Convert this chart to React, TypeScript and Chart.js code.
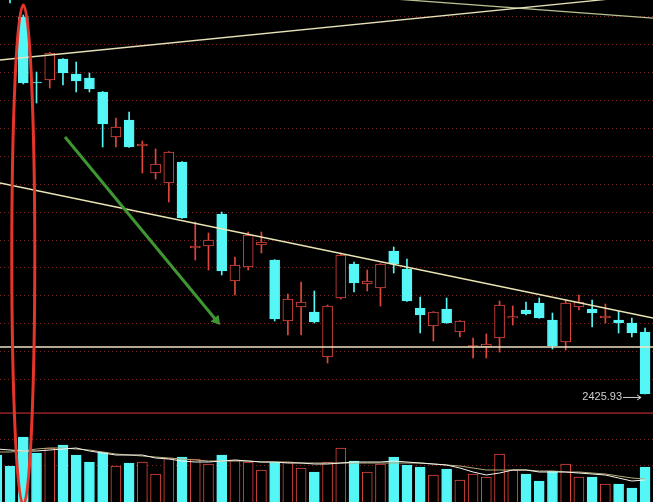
import React, { useEffect, useRef } from 'react';
import { Chart, registerables } from 'chart.js';

Chart.register(...registerables);

// ---- data (index-based trading days) ----
const dayIndex = [0, 1, 2, 3, 4, 5, 6, 7, 8, 9, 10, 11, 12, 13, 14, 15, 16, 17, 18, 19, 20, 21, 22, 23, 24, 25, 26, 27, 28, 29, 30, 31, 32, 33, 34, 35, 36, 37, 38, 39, 40, 41, 42, 43, 44, 45, 46, 47, 48, 49];

const opens = [2735.0, 2724.0, 2695.45, 2648.97, 2650.4, 2665.42, 2654.69, 2651.83, 2641.82, 2609.65,
  2621.8, 2603.21, 2583.9, 2576.76, 2591.77, 2530.28, 2531.71, 2554.59, 2506.69, 2516.7,
  2532.43, 2521.7, 2478.09, 2488.1, 2484.52, 2452.35, 2494.53, 2518.84, 2504.54, 2501.68,
  2528.14, 2515.27, 2487.38, 2474.51, 2486.67, 2470.22, 2459.5, 2459.5, 2465.93, 2480.23,
  2485.95, 2490.96, 2478.8, 2463.07, 2488.1, 2486.67, 2480.23, 2478.8, 2476.66, 2470.22];

const highs = [2741.0, 2727.5, 2696.88, 2656.12, 2670.1, 2665.8, 2663.27, 2655.41, 2642.2, 2623.23,
  2627.52, 2606.78, 2601.07, 2599.2, 2592.1, 2548.87, 2541.0, 2556.02, 2523.85, 2541.72,
  2541.72, 2522.0, 2497.39, 2505.97, 2499.54, 2489.53, 2526.71, 2520.27, 2514.55, 2519.1,
  2531.0, 2522.42, 2495.25, 2484.8, 2494.53, 2478.4, 2465.93, 2468.79, 2492.39, 2488.81,
  2491.67, 2494.53, 2483.81, 2493.1, 2496.68, 2493.1, 2490.24, 2485.24, 2480.23, 2473.08];

const lows = [2709.0, 2705.5, 2647.54, 2633.96, 2644.68, 2646.83, 2641.82, 2641.82, 2602.5, 2602.5,
  2602.2, 2583.9, 2579.62, 2563.17, 2551.4, 2521.7, 2514.55, 2510.98, 2496.68, 2514.55,
  2526.71, 2478.09, 2468.08, 2468.08, 2476.66, 2448.06, 2493.82, 2498.82, 2499.54, 2488.81,
  2512.41, 2492.1, 2469.51, 2463.79, 2476.4, 2466.65, 2451.63, 2451.63, 2455.92, 2475.23,
  2482.38, 2480.0, 2458.07, 2457.35, 2485.95, 2473.8, 2476.66, 2469.51, 2466.65, 2425.93];

const closes = [2712.0, 2712.5, 2648.26, 2648.26, 2669.7, 2655.41, 2649.69, 2643.97, 2618.94, 2616.8,
  2602.5, 2604.64, 2590.34, 2598.92, 2551.73, 2531.71, 2536.0, 2513.84, 2518.13, 2539.58,
  2534.57, 2479.52, 2493.82, 2491.67, 2477.37, 2488.81, 2525.28, 2505.26, 2506.69, 2518.84,
  2518.84, 2492.39, 2482.38, 2484.52, 2476.66, 2478.09, 2460.57, 2461.64, 2489.53, 2481.3,
  2483.09, 2480.23, 2460.21, 2490.96, 2491.67, 2483.81, 2481.66, 2476.66, 2469.51, 2425.93];

const volumes = [1305, 1140, 1575, 1335, 1410, 1455, 1305, 1200, 1350, 1140,
  1185, 1200, 1020, 1260, 1275, 1245, 1170, 1305, 1230, 1200,
  1080, 1200, 1200, 1110, 1050, 1200, 1410, 1215, 1050, 1170,
  1275, 1155, 1125, 1005, 1095, 930, 1020, 975, 1320, 1080,
  1020, 915, 1065, 1170, 975, 975, 870, 870, 810, 1125];

const volMaShort = [1395, 1380, 1365, 1365, 1380, 1395, 1410, 1365, 1335, 1305,
  1305, 1305, 1260, 1245, 1215, 1200, 1200, 1215, 1230, 1215,
  1200, 1200, 1185, 1185, 1170, 1170, 1185, 1200, 1200, 1200,
  1215, 1200, 1185, 1170, 1155, 1110, 1050, 1005, 1035, 1080,
  1080, 1050, 1050, 1050, 1035, 1020, 1005, 960, 915, 930];

const volMaLong = [1350, 1350, 1365, 1395, 1410, 1410, 1395, 1380, 1350, 1320,
  1305, 1290, 1275, 1260, 1245, 1230, 1215, 1215, 1215, 1215,
  1200, 1200, 1200, 1185, 1185, 1185, 1185, 1185, 1185, 1185,
  1185, 1185, 1185, 1170, 1155, 1140, 1110, 1080, 1080, 1080,
  1080, 1065, 1065, 1050, 1050, 1035, 1020, 990, 960, 945];

// ---- axes ----
const xRange = [0.24, 49.6];
const priceRange = [2411.6, 2707.6];
const volumeRange = [600, 1920];
const priceGridTicks = [2696, 2676, 2656, 2636, 2616, 2596, 2576, 2556, 2536, 2516, 2496, 2476, 2456, 2436];
const volumeGridTicks = [1545, 1155];

// ---- drawn annotations (in data units) ----
const upperTrend = [[0.24, 2664.7], [49.6, 2711.4]];
const crossTrend = [[30, 2708.35], [49.6, 2694.7]];
const downTrend = [[0.24, 2576.76], [49.6, 2480.23]];
const supportLine = [[0.24, 2459.5], [49.6, 2459.5]];
const paneSeparator = [[0.24, 2412.1], [49.6, 2412.1]];
const greenArrow = [[5.155, 2609.65], [16.6, 2478.5]];
const ovalIndex = 2;
const ovalHalfWidth = 0.87;
const ovalTopPrice = 2704;
const ovalBottomVolume = 555;

const UP = '#e0473c';
const DOWN = '#54f6f6';

const toPts = (arr: number[][]) => arr.map(([x, y]) => ({ x, y }));

const overlay = {
  id: 'overlay',
  afterDatasetsDraw(chart: any) {
    const { ctx } = chart;
    const xs = chart.scales.x;
    const ys = chart.scales.y;
    const vs = chart.scales.v;
    ctx.save();
    // last low label
    const li = lows.length - 1;
    const lx = xs.getPixelForValue(dayIndex[li]) - 4;
    const ly = ys.getPixelForValue(lows[li]) + 3;
    ctx.font = '11px "Liberation Sans", Arial, sans-serif';
    ctx.fillStyle = '#d0d0d0';
    ctx.textAlign = 'right';
    ctx.textBaseline = 'middle';
    ctx.fillText(lows[li].toFixed(2), lx - 19, ly);
    ctx.strokeStyle = '#d0d0d0';
    ctx.lineWidth = 1;
    ctx.beginPath();
    ctx.moveTo(lx - 18, ly + 0.5);
    ctx.lineTo(lx, ly + 0.5);
    ctx.moveTo(lx - 4, ly - 2);
    ctx.lineTo(lx, ly + 0.5);
    ctx.lineTo(lx - 4, ly + 3);
    ctx.stroke();
    // red oval
    const cx = xs.getPixelForValue(ovalIndex);
    const rx = Math.abs(xs.getPixelForValue(ovalIndex + ovalHalfWidth) - cx);
    const top = ys.getPixelForValue(ovalTopPrice);
    const bottom = vs.getPixelForValue(ovalBottomVolume);
    ctx.strokeStyle = '#e5352b';
    ctx.lineWidth = 3;
    ctx.beginPath();
    ctx.ellipse(cx, (top + bottom) / 2, rx, Math.abs(bottom - top) / 2, 0, 0, Math.PI * 2);
    ctx.stroke();
    ctx.restore();
  },
};

export default function App() {
  const ref = useRef<HTMLCanvasElement>(null);
  useEffect(() => {
    document.body.style.margin = '0';
    document.body.style.background = '#000';
    const isUp = closes.map((c, i) => c >= opens[i]);
    const col = isUp.map((u) => (u ? UP : DOWN));
    const fill = isUp.map((u) => (u ? '#000000' : DOWN));

    const lineDs = (pts: number[][], color: string, width: number, order: number, extra: any = {}) => ({
      type: 'line',
      data: toPts(pts),
      borderColor: color,
      backgroundColor: color,
      borderWidth: width,
      pointRadius: 0,
      yAxisID: 'y',
      order,
      ...extra,
    });

    const gridCommon = {
      ticks: { display: false },
      grid: { color: '#7a2424', drawTicks: false, lineWidth: 1 },
      border: { display: false, dash: [1, 3] },
    };

    const chart = new Chart(ref.current as HTMLCanvasElement, {
      type: 'bar',
      data: {
        datasets: [
          {
            label: 'wick',
            data: dayIndex.map((d, i) => ({ x: d, y: [lows[i], highs[i]] })),
            backgroundColor: col,
            borderWidth: 0,
            barThickness: 1,
            grouped: false,
            yAxisID: 'y',
            order: 20,
          },
          {
            label: 'body',
            data: dayIndex.map((d, i) => ({ x: d, y: [opens[i], closes[i]] })),
            backgroundColor: fill,
            borderColor: col,
            borderWidth: 1,
            borderSkipped: false,
            barThickness: 10,
            grouped: false,
            yAxisID: 'y',
            order: 19,
          },
          {
            label: 'volume',
            data: dayIndex.map((d, i) => ({ x: d, y: volumes[i] })),
            backgroundColor: fill,
            borderColor: col,
            borderWidth: 1,
            borderSkipped: false,
            barThickness: 10,
            grouped: false,
            yAxisID: 'v',
            order: 18,
          },
          {
            type: 'line',
            label: 'volMaLong',
            data: dayIndex.map((d, i) => ({ x: d, y: volMaLong[i] })),
            borderColor: '#b4ab78',
            borderWidth: 1,
            pointRadius: 0,
            yAxisID: 'v',
            order: 6,
          },
          {
            type: 'line',
            label: 'volMaShort',
            data: dayIndex.map((d, i) => ({ x: d, y: volMaShort[i] })),
            borderColor: '#f2f2ea',
            borderWidth: 1,
            pointRadius: 0,
            yAxisID: 'v',
            order: 5,
          },
          lineDs(upperTrend, '#e6e2b8', 1.3, 4),
          lineDs(crossTrend, '#b9c08f', 1.3, 4),
          lineDs(downTrend, '#ece6b4', 1.3, 4),
          lineDs(supportLine, '#efe2c2', 1.5, 4),
          lineDs(paneSeparator, '#7e1d1d', 2, 4),
          lineDs(greenArrow, '#3f9632', 3, 3, {
            pointRadius: [0, 6],
            pointStyle: 'triangle',
            rotation: 140.5,
            pointBorderWidth: 0,
          }),
        ] as any,
      },
      options: {
        animation: false,
        responsive: false,
        events: [],
        layout: { padding: 0, autoPadding: false },
        plugins: { legend: { display: false }, tooltip: { enabled: false } },
        scales: {
          x: { type: 'linear', min: xRange[0], max: xRange[1], display: false, offset: false },
          v: {
            type: 'linear',
            position: 'left',
            stack: 'panes',
            stackWeight: 88,
            min: volumeRange[0],
            max: volumeRange[1],
            ...gridCommon,
            afterBuildTicks: (s: any) => {
              s.ticks = volumeGridTicks.map((v) => ({ value: v }));
            },
          },
          y: {
            type: 'linear',
            position: 'left',
            stack: 'panes',
            stackWeight: 414,
            min: priceRange[0],
            max: priceRange[1],
            ...gridCommon,
            afterBuildTicks: (s: any) => {
              s.ticks = priceGridTicks.map((v) => ({ value: v }));
            },
          },
        },
      } as any,
      plugins: [overlay],
    });
    return () => chart.destroy();
  }, []);

  return (
    <div style={{ position: 'fixed', left: 0, top: 0, width: 653, height: 502, background: '#000' }}>
      <canvas ref={ref} width={653} height={502} style={{ display: 'block', width: 653, height: 502 }} />
    </div>
  );
}
